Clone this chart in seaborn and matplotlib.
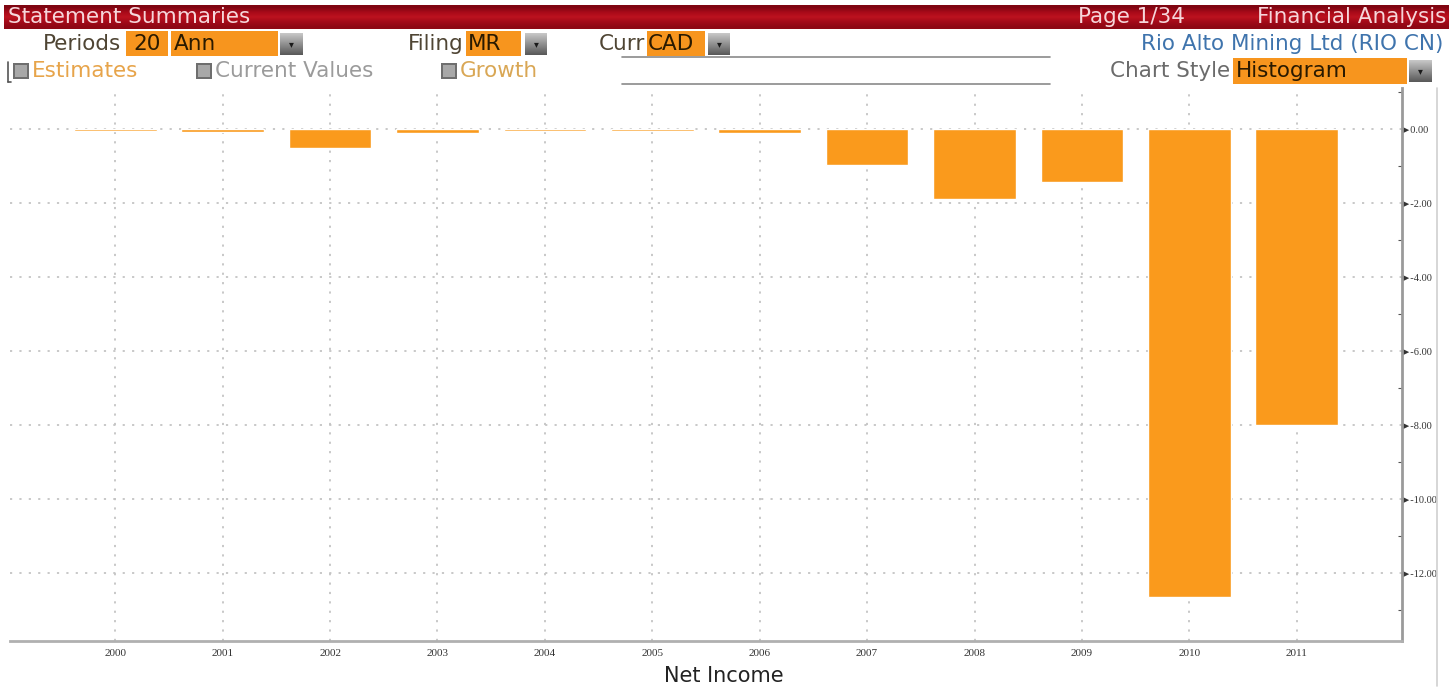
import numpy as np
import pandas as pd
import seaborn as sns
import matplotlib
matplotlib.use("Agg")
import matplotlib.pyplot as plt
from matplotlib.patches import Rectangle
from matplotlib.lines import Line2D
from matplotlib.ticker import FixedLocator, MultipleLocator, FuncFormatter

# Net income by fiscal year (CAD, millions)
years = ["2000", "2001", "2002", "2003", "2004", "2005",
         "2006", "2007", "2008", "2009", "2010", "2011"]
net_income = [-0.05, -0.07, -0.51, -0.11, -0.05, -0.05,
              -0.11, -0.95, -1.89, -1.41, -12.65, -7.99]
y_ticks = [0, -2, -4, -6, -8, -10, -12]

W, H = 1453, 690
BAR = "#FA9A1C"
BOX = "#F7951E"
UI_FONT = ["DejaVu Sans"]

sns.set_theme(style="white")
plt.rcParams["font.family"] = UI_FONT

fig = plt.figure(figsize=(W / 100, H / 100), dpi=100)
fig.patch.set_facecolor("white")


def fx(x):
    return x / W


def fy(y):
    return 1 - y / H


def add_box(x0, y0, x1, y1, color, **kw):
    fig.patches.append(Rectangle((fx(x0), fy(y1)), fx(x1) - fx(x0), fy(y0) - fy(y1),
                                 transform=fig.transFigure, facecolor=color,
                                 edgecolor="none", **kw))


def add_button(x0, y0, x1, y1):
    ax_b = fig.add_axes([fx(x0), fy(y1), fx(x1) - fx(x0), fy(y0) - fy(y1)])
    grad = np.linspace(0.78, 0.35, 32).reshape(-1, 1)
    ax_b.imshow(np.repeat(grad, 4, axis=1), cmap="gray", vmin=0, vmax=1,
                aspect="auto", extent=[0, 1, 0, 1])
    ax_b.text(0.5, 0.5, "▾", ha="center", va="center", fontsize=7,
              color="#1a1a1a", transform=ax_b.transAxes)
    ax_b.axis("off")


def add_check(x0, y0, size=16):
    add_box(x0, y0, x0 + size, y0 + size, "#6e6e6e")
    add_box(x0 + 2, y0 + 2, x0 + size - 2, y0 + size - 2, "#a8a8a8")


# ---- title bar ----
ax_h = fig.add_axes([fx(4), fy(29), fx(W - 4) - fx(4), fy(5) - fy(29)])
grad = np.array([[0.50, 0.02, 0.07], [0.66, 0.04, 0.10], [0.74, 0.07, 0.12],
                 [0.64, 0.04, 0.10], [0.56, 0.03, 0.08]])
ax_h.imshow(grad.reshape(5, 1, 3), aspect="auto", extent=[0, 1, 0, 1],
            interpolation="bilinear")
ax_h.axis("off")
hfs = 15.5
fig.text(fx(8), fy(17), "Statement Summaries", fontsize=hfs, color="#f6d6da",
         va="center", ha="left")
fig.text(fx(1078), fy(17), "Page 1/34", fontsize=hfs, color="#f6d6da",
         va="center", ha="left")
fig.text(fx(1446), fy(17), "Financial Analysis", fontsize=hfs,
         color="#f6d6da", va="center", ha="right")

# ---- selector row ----
row2 = 44
label_col = "#4f4534"
fs = 15.5
fig.text(fx(121), fy(row2), "Periods", fontsize=fs, color=label_col,
         ha="right", va="center")
add_box(126, 31, 168, 56, BOX)
fig.text(fx(133), fy(row2), "20", fontsize=fs, color="#2a1a00", va="center")
add_box(171, 31, 278, 56, BOX)
fig.text(fx(174), fy(row2), "Ann", fontsize=fs, color="#2a1a00", va="center")
add_button(280, 33, 303, 55)

fig.text(fx(464), fy(row2), "Filing", fontsize=fs, color=label_col,
         ha="right", va="center")
add_box(466, 31, 521, 56, BOX)
fig.text(fx(468), fy(row2), "MR", fontsize=fs, color="#2a1a00", va="center")
add_button(525, 33, 547, 55)

fig.text(fx(645), fy(row2), "Curr", fontsize=fs, color=label_col,
         ha="right", va="center")
add_box(647, 31, 705, 56, BOX)
fig.text(fx(648), fy(row2), "CAD", fontsize=fs, color="#2a1a00", va="center")
add_button(708, 33, 730, 55)

fig.text(fx(1443), fy(row2), "Rio Alto Mining Ltd (RIO CN)", fontsize=fs,
         color="#3f74ad", ha="right", va="center")

# ---- options row ----
row3 = 71
fig.add_artist(Line2D([fx(8), fx(8)], [fy(62), fy(82)], color="#555555", lw=1.2))
fig.add_artist(Line2D([fx(8), fx(11)], [fy(82), fy(82)], color="#555555", lw=1.2))
add_check(13, 63)
fig.text(fx(32), fy(row3), "Estimates", fontsize=fs, color="#e7a44a", va="center")
add_check(196, 63)
fig.text(fx(215), fy(row3), "Current Values", fontsize=fs, color="#9b9b9b",
         va="center")
add_check(441, 63)
fig.text(fx(460), fy(row3), "Growth", fontsize=fs, color="#d9a755", va="center")

fig.text(fx(1230), fy(row3), "Chart Style", fontsize=fs, color="#6b6b6b",
         ha="right", va="center")
add_box(1233, 58, 1407, 84, BOX)
fig.text(fx(1236), fy(row3), "Histogram", fontsize=fs, color="#2a1a00",
         va="center")
add_button(1409, 60, 1432, 82)

for yy in (57, 84):
    fig.add_artist(Line2D([fx(622), fx(1050)], [fy(yy), fy(yy)],
                          color="#8a8a8a", lw=1.2))
fig.add_artist(Line2D([fx(1437), fx(1437)], [fy(88), fy(686)],
                      color="#cfcfcf", lw=1.2))

# ---- chart ----
ax = fig.add_axes([fx(10), fy(641), fx(1402) - fx(10), fy(88) - fy(641)])
df = pd.DataFrame({"year": years, "value": net_income})
sns.barplot(data=df, x="year", y="value", order=years, color=BAR,
            saturation=1, width=0.77, ax=ax, zorder=3)

ax.set_xlim(-0.98, 11.98)
ax.set_ylim(-13.83, 1.12)
ax.set_xlabel("")
ax.set_ylabel("")

ax.yaxis.tick_right()
ax.yaxis.set_major_locator(FixedLocator(y_ticks))
ax.yaxis.set_minor_locator(MultipleLocator(1))
ax.yaxis.set_major_formatter(FuncFormatter(lambda v, p: "►" + f"{v:.2f}".replace("-0.00", "0.00")))
ax.tick_params(axis="y", which="major", length=0, pad=-1, labelsize=7.5,
               labelcolor="#333333", right=True, left=False)
ax.tick_params(axis="y", which="minor", length=3, width=0.8, color="#555555",
               right=True, left=False, direction="in")
ax.tick_params(axis="x", length=0, pad=6, labelsize=8, labelcolor="#333333")
for lab in ax.get_xticklabels() + ax.get_yticklabels():
    lab.set_fontfamily(["Liberation Serif", "DejaVu Serif"])

ax.grid(True, which="major", color="#c4c4c4", linestyle=(0, (1.2, 4)),
        linewidth=1.3, zorder=0)
ax.set_axisbelow(True)

for side in ("top", "left"):
    ax.spines[side].set_visible(False)
ax.spines["right"].set_color("#9a9a9a")
ax.spines["right"].set_linewidth(2)
ax.spines["bottom"].set_color("#b0b0b0")
ax.spines["bottom"].set_linewidth(2)

fig.text(fx(724), fy(676), "Net Income", fontsize=15, color="#222222",
         ha="center", va="center")

fig.savefig("out.png", dpi=100, facecolor="white")
